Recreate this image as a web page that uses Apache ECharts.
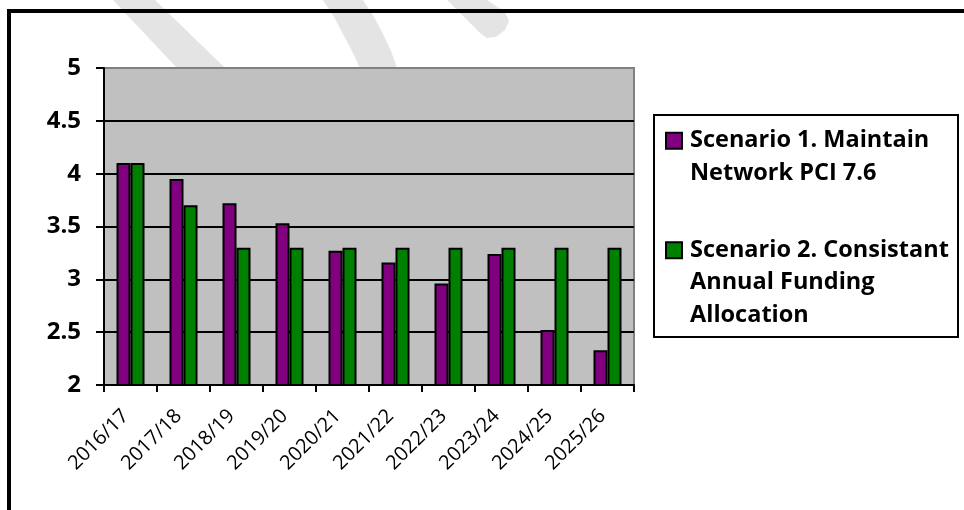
<!DOCTYPE html>
<html>
<head>
<meta charset="utf-8">
<script src="https://cdn.jsdelivr.net/npm/echarts@6/dist/echarts.min.js"></script>
<style>
html,body{margin:0;padding:0;background:#fff;}
#chart{width:964px;height:510px;}
</style>
</head>
<body>
<div id="chart"></div>
<script>
// ---- data ----
const categories = ['2016/17','2017/18','2018/19','2019/20','2020/21','2021/22','2022/23','2023/24','2024/25','2025/26'];
const scenario1 = [4.10, 3.95, 3.72, 3.53, 3.27, 3.16, 2.96, 3.24, 2.52, 2.33];
const scenario2 = [4.10, 3.70, 3.30, 3.30, 3.30, 3.30, 3.30, 3.30, 3.30, 3.30];
const seriesNames = ['Scenario 1. Maintain Network PCI 7.6', 'Scenario 2. Consistant Annual Funding Allocation'];
const legendLines = [['Scenario 1. Maintain', 'Network PCI 7.6'], ['Scenario 2. Consistant', 'Annual Funding', 'Allocation']];
const yMin = 2, yMax = 5, yStep = 0.5;

// ---- chart ----
const chart = echarts.init(document.getElementById('chart'), null, {renderer: 'canvas'});
const wm = '#e4e4e4';
const LH = 32.5;
function legendText(name) {
  const lines = legendLines[seriesNames.indexOf(name)];
  // pad with blank lines above so the marker sits level with the first line
  const pad = new Array(lines.length - 1).fill('');
  return pad.concat(lines).join('\n');
}
const legendCommon = {
  orient: 'vertical', left: 665, padding: 0,
  itemWidth: 16, itemHeight: 16, icon: 'rect', z: 10,
  textStyle: {fontFamily: 'Open Sans', fontWeight: 'bold', fontSize: 23.5, lineHeight: LH, color: '#000', padding: [0, 0, 0, 3]},
  formatter: legendText
};
const option = {
  animation: false,
  backgroundColor: '#ffffff',
  grid: {
    left: 104, top: 68, width: 530, height: 317,
    show: true, backgroundColor: '#c0c0c0', borderColor: '#808080', borderWidth: 2,
    containLabel: false, outerBoundsMode: 'none'
  },
  graphic: [
    {type: 'polygon', z: -5, silent: true, shape: {points: [[113,0],[155,0],[225,68],[177,68]]}, style: {fill: wm}},
    {type: 'polygon', z: -5, silent: true, shape: {points: [[323,0],[334,17],[343,34],[352,51],[360,68],[397,68],[391,51],[383,34],[374,17],[363,0]]}, style: {fill: wm}},
    {type: 'polygon', z: -5, silent: true, shape: {points: [[447,0],[487,0],[505,12],[509,21],[505,30],[496,37],[487,38],[480,33]]}, style: {fill: wm}},
    {type: 'rect', z: 1, silent: true, shape: {x: 9, y: 11, width: 1000, height: 600}, style: {fill: 'none', stroke: '#000', lineWidth: 4}},
    {type: 'rect', z: 1, silent: true, shape: {x: 654, y: 115, width: 304, height: 222}, style: {fill: '#fff', stroke: '#000', lineWidth: 2}}
  ],
  legend: [
    Object.assign({}, legendCommon, {top: 92, data: [seriesNames[0]]}),
    Object.assign({}, legendCommon, {top: 169, data: [seriesNames[1]]})
  ],
  xAxis: {
    type: 'category', data: categories, boundaryGap: true,
    axisLine: {show: true, lineStyle: {color: '#000', width: 2}},
    axisTick: {show: true, interval: 0, alignWithLabel: false, length: 7, lineStyle: {color: '#000', width: 2}},
    axisLabel: {interval: 0, rotate: 45, margin: 23, padding: [0, 7, 0, 0], fontFamily: 'Open Sans', fontSize: 20, color: '#000'},
    splitLine: {show: false}
  },
  yAxis: {
    type: 'value', min: yMin, max: yMax, interval: yStep,
    axisLine: {show: true, lineStyle: {color: '#000', width: 2}},
    axisTick: {show: true, length: 8, lineStyle: {color: '#000', width: 2}},
    axisLabel: {margin: 23, fontFamily: 'Open Sans', fontWeight: 'bold', fontSize: 24, color: '#000'},
    splitLine: {show: true, showMinLine: false, showMaxLine: false, lineStyle: {color: '#000', width: 2}}
  },
  series: [
    {name: seriesNames[0], type: 'bar', data: scenario1, barWidth: 14, barGap: '0%',
     itemStyle: {color: '#800080', borderColor: '#000', borderWidth: 2}},
    {name: seriesNames[1], type: 'bar', data: scenario2, barWidth: 14, barGap: '0%',
     itemStyle: {color: '#008000', borderColor: '#000', borderWidth: 2}}
  ]
};
chart.setOption(option);
</script>
</body>
</html>
